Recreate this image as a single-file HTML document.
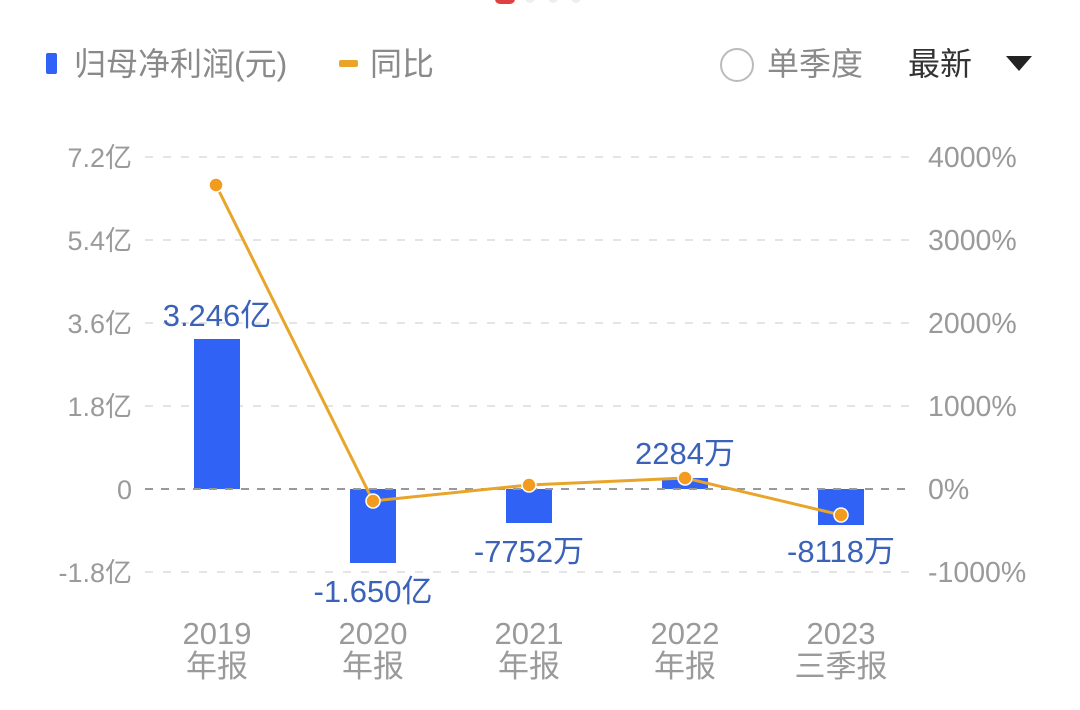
<!DOCTYPE html>
<html><head><meta charset="utf-8"><style>
html,body{margin:0;padding:0;background:#fff;width:1080px;height:710px;overflow:hidden}
</style></head><body>
<svg width="1080" height="710" viewBox="0 0 1080 710" xmlns="http://www.w3.org/2000/svg" style="font-family:'Liberation Sans','Noto Sans CJK SC',sans-serif">
<rect x="495" y="-8" width="20" height="12" rx="5" fill="#e04040"/>
<circle cx="530" cy="-2" r="5" fill="#eee"/><circle cx="553" cy="-2" r="5" fill="#eee"/><circle cx="576" cy="-2" r="5" fill="#eee"/>
<rect x="46" y="53" width="11" height="21" rx="2" fill="#2f62f5"/>
<text x="74" y="75" font-size="32" fill="#8a8a8a">归母净利润(元)</text>
<rect x="339" y="60" width="19" height="7" rx="2" fill="#e8a52a"/>
<text x="370" y="75" font-size="32" fill="#8a8a8a">同比</text>
<circle cx="737" cy="65" r="16" fill="none" stroke="#bbb" stroke-width="2"/>
<text x="767" y="75" font-size="32" fill="#8a8a8a">单季度</text>
<text x="908" y="75" font-size="32" fill="#333">最新</text>
<polygon points="1006,56 1032,56 1019,71" fill="#222"/>
<g stroke="#e4e4e4" stroke-width="2" stroke-dasharray="8,10">
<line x1="145" y1="157" x2="912" y2="157"/><line x1="145" y1="240" x2="912" y2="240"/>
<line x1="145" y1="323" x2="912" y2="323"/><line x1="145" y1="406" x2="912" y2="406"/>
<line x1="145" y1="572" x2="912" y2="572"/>
</g>
<g font-size="27" fill="#9a9a9a" text-anchor="end">
<text x="132" y="167">7.2亿</text><text x="132" y="250">5.4亿</text><text x="132" y="333">3.6亿</text>
<text x="132" y="416">1.8亿</text><text x="132" y="499">0</text><text x="132" y="582">-1.8亿</text>
</g>
<g font-size="28.5" fill="#9a9a9a">
<text x="928" y="167">4000%</text><text x="928" y="250">3000%</text><text x="928" y="333">2000%</text>
<text x="928" y="416">1000%</text><text x="928" y="499">0%</text><text x="928" y="582">-1000%</text>
</g>
<g fill="#2f62f5">
<rect x="194" y="339" width="46" height="150"/>
<rect x="350" y="489" width="46" height="74"/>
<rect x="506" y="489" width="46" height="34"/>
<rect x="662" y="478" width="46" height="11"/>
<rect x="818" y="489" width="46" height="36"/>
</g>
<line x1="145" y1="489" x2="912" y2="489" stroke="#999" stroke-width="2" stroke-dasharray="8,8"/>
<polyline points="216,185 373,501 529,485 685,478 841,515" fill="none" stroke="#e8a52a" stroke-width="3"/>
<g fill="#f29b1e" stroke="#fff" stroke-width="1.5">
<circle cx="216" cy="185" r="7"/><circle cx="373" cy="501" r="7"/><circle cx="529" cy="485" r="7"/><circle cx="685" cy="478" r="7"/><circle cx="841" cy="515" r="7"/>
</g>
<g font-size="31" fill="#3a62b8" text-anchor="middle">
<text x="217" y="326">3.246亿</text>
<text x="373" y="602">-1.650亿</text>
<text x="529" y="562">-7752万</text>
<text x="685" y="464">2284万</text>
<text x="841" y="562">-8118万</text>
</g>
<g font-size="31" fill="#9a9a9a" text-anchor="middle">
<text x="217" y="644">2019</text><text x="217" y="677">年报</text>
<text x="373" y="644">2020</text><text x="373" y="677">年报</text>
<text x="529" y="644">2021</text><text x="529" y="677">年报</text>
<text x="685" y="644">2022</text><text x="685" y="677">年报</text>
<text x="841" y="644">2023</text><text x="841" y="677">三季报</text>
</g>
</svg>
</body></html>
